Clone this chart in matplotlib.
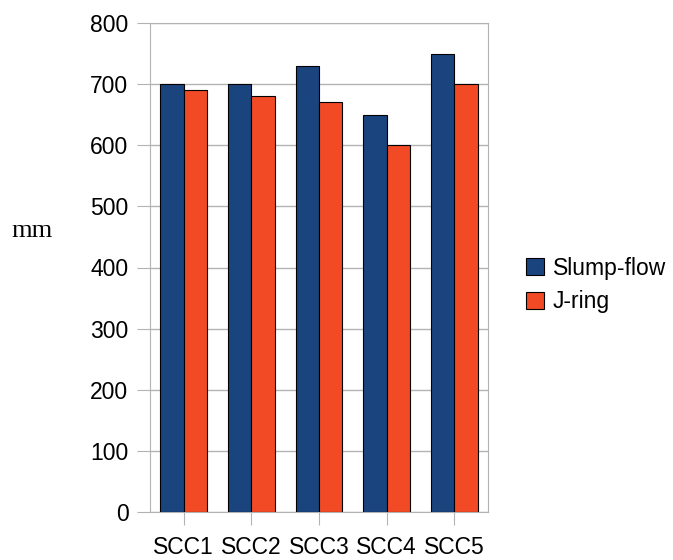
import matplotlib
matplotlib.use("Agg")
import matplotlib.pyplot as plt
import numpy as np
from matplotlib.patches import Patch

categories = ["SCC1", "SCC2", "SCC3", "SCC4", "SCC5"]
slump_flow = [700, 700, 730, 650, 750]
j_ring = [690, 680, 670, 600, 700]
yticks = [0, 100, 200, 300, 400, 500, 600, 700, 800]

plt.rcParams['font.family'] = ['Liberation Sans', 'DejaVu Sans']
fig = plt.figure(figsize=(6.73, 5.60), dpi=100)
ax = fig.add_axes([150/673, 48/560, 338/673, 489/560])

blue = "#1a447e"
orange = "#f24a24"
x = np.arange(len(categories))
w = 0.345
ax.bar(x - w/2, slump_flow, w, color=blue, edgecolor="black", linewidth=0.8, zorder=3)
ax.bar(x + w/2, j_ring, w, color=orange, edgecolor="black", linewidth=0.8, zorder=3)

ax.set_xlim(-0.5, len(categories) - 0.5)
ax.set_ylim(0, 800)
ax.set_yticks(yticks)
ax.set_xticks(x)
ax.set_xticklabels(categories)
ax.yaxis.grid(True, color="#b3b3b3", linewidth=1, zorder=0)
for s in ax.spines.values():
    s.set_color("#b3b3b3")
ax.tick_params(axis='y', length=9.5, color="#b3b3b3", labelsize=16.5, pad=6)
ax.tick_params(axis='x', length=9.5, color="#b3b3b3", labelsize=16.5, pad=8)

fig.text(32/673, 1 - 231/560, "mm", family=['Liberation Serif', 'DejaVu Serif'],
         fontsize=19, ha='center', va='center')

handles = [Patch(facecolor=blue, edgecolor="black", linewidth=0.8, label="Slump-flow"),
           Patch(facecolor=orange, edgecolor="black", linewidth=0.8, label="J-ring")]
fig.legend(handles=handles, loc='center left', bbox_to_anchor=(508/673, 1 - 285/560),
           frameon=False, fontsize=16.5, handlelength=0.75, handleheight=0.75,
           handletextpad=0.4, labelspacing=0.45, borderpad=0.3)

fig.savefig("out.png", dpi=100)
